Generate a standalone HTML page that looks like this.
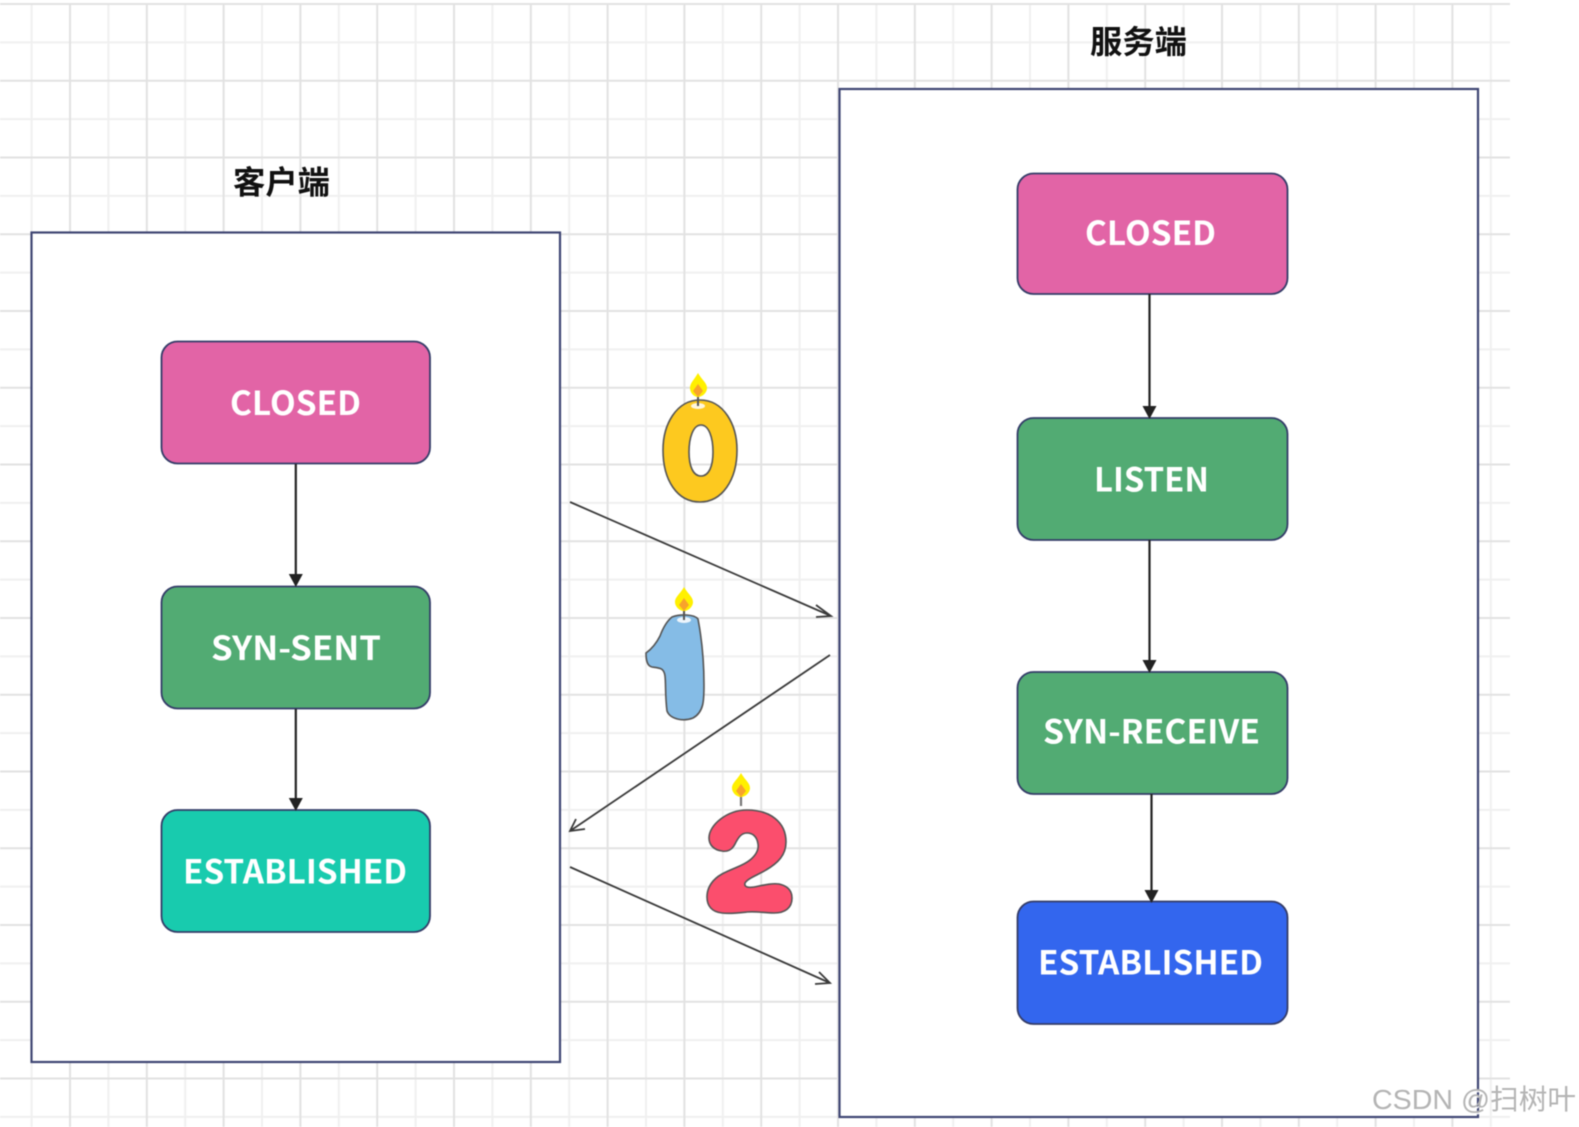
<!DOCTYPE html>
<html>
<head>
<meta charset="utf-8">
<style>
html,body{margin:0;padding:0;background:#fff;width:1579px;height:1127px;overflow:hidden}
svg{display:block;filter:blur(0.6px)}
text{font-family:"Noto Sans CJK SC","Liberation Sans",sans-serif}
.n{fill:#fff;font-size:33px;font-weight:700;text-anchor:start}
.t{fill:#111;font-size:32px;font-weight:700}
.box{fill:#fff;stroke:#3f4673;stroke-width:2.2}
.node{stroke:#343c68;stroke-width:1.8}
.cl{stroke:#222;stroke-width:2.2;fill:none}
.ah{fill:#222}
.ar{stroke:#3a3a3a;stroke-width:1.8;fill:none}
</style>
</head>
<body>
<svg width="1579" height="1127" viewBox="0 0 1579 1127" xmlns="http://www.w3.org/2000/svg">
<defs>
<pattern id="g" patternUnits="userSpaceOnUse" x="69" y="3" width="76.8" height="76.75">
<rect width="76.8" height="76.75" fill="#fff"/>
<path d="M39.4 0V76.75M0 39.4H76.8" stroke="#f0f0f0" stroke-width="2"/>
<path d="M1 0V76.75M0 1H76.8" stroke="#e2e2e2" stroke-width="2"/>
</pattern>
</defs>
<rect width="1579" height="1127" fill="#fff"/>
<rect x="0" y="3" width="1510" height="1124" fill="url(#g)"/>

<!-- containers -->
<rect class="box" x="31.5" y="232.5" width="528.5" height="829.5"/>
<rect class="box" x="839.5" y="89" width="638.5" height="1028"/>

<!-- titles -->
<text class="t" x="233" y="193.5" textLength="97" lengthAdjust="spacingAndGlyphs">客户端</text>
<text class="t" x="1090" y="53" textLength="97" lengthAdjust="spacingAndGlyphs">服务端</text>

<!-- client nodes -->
<rect class="node" x="161.5" y="341.5" width="268.5" height="122" rx="16" fill="#e264a6"/>
<rect class="node" x="161.5" y="586.5" width="268.5" height="122" rx="16" fill="#52ab73"/>
<rect class="node" x="161.5" y="810" width="268.5" height="122" rx="16" fill="#18cbae"/>
<text class="n" x="230" y="415" textLength="131" lengthAdjust="spacingAndGlyphs">CLOSED</text>
<text class="n" x="211" y="660" textLength="170" lengthAdjust="spacingAndGlyphs">SYN-SENT</text>
<text class="n" x="183" y="883.5" textLength="224" lengthAdjust="spacingAndGlyphs">ESTABLISHED</text>

<!-- server nodes -->
<rect class="node" x="1017.5" y="173.5" width="270" height="120.5" rx="16" fill="#e264a6"/>
<rect class="node" x="1017.5" y="418" width="270" height="122" rx="16" fill="#52ab73"/>
<rect class="node" x="1017.5" y="672" width="270" height="122" rx="16" fill="#52ab73"/>
<rect class="node" x="1017.5" y="901.5" width="270" height="122.5" rx="16" fill="#3366ee"/>
<text class="n" x="1085" y="245" textLength="131" lengthAdjust="spacingAndGlyphs">CLOSED</text>
<text class="n" x="1094" y="491.5" textLength="115" lengthAdjust="spacingAndGlyphs">LISTEN</text>
<text class="n" x="1043" y="743.5" textLength="217" lengthAdjust="spacingAndGlyphs">SYN-RECEIVE</text>
<text class="n" x="1038" y="974.5" textLength="225" lengthAdjust="spacingAndGlyphs">ESTABLISHED</text>

<!-- vertical connectors -->
<path class="cl" d="M295.8 464V575"/><path class="ah" d="M288.8 574H302.8L295.8 587Z"/>
<path class="cl" d="M295.8 709V798"/><path class="ah" d="M288.8 798H302.8L295.8 811Z"/>
<path class="cl" d="M1149.5 294V406"/><path class="ah" d="M1142.5 406H1156.5L1149.5 419Z"/>
<path class="cl" d="M1149.5 540V660"/><path class="ah" d="M1142.5 660H1156.5L1149.5 673Z"/>
<path class="cl" d="M1151.5 794V890"/><path class="ah" d="M1144.5 890H1158.5L1151.5 903Z"/>

<!-- diagonal arrows -->
<path class="ar" d="M570 502L831 616M816 605L831 616L816 617"/>
<path class="ar" d="M830 655L570 831M576 819L570 831L585 829"/>
<path class="ar" d="M570 867L830 983M819 972L830 983L815 984"/>

<!-- candle 0 -->
<path d="M700 400C724 400 737 425 737 450C737 480 722 502 700 502C677 502 663 480 663 450C663 425 676 400 700 400ZM701 425C693 425 689 438 689 452C689 466 693 476 701 476C709 476 713 466 713 452C713 438 709 425 701 425Z" fill="#fdc91f" fill-rule="evenodd" stroke="#555" stroke-width="1.6"/>
<ellipse cx="698" cy="406" rx="7" ry="3" fill="#fff" opacity=".85"/>
<path d="M698 397V406" stroke="#555" stroke-width="2"/>
<path d="M698 373C702 380 707 383 707 388C707 393 702 397 698 397C694 397 690 393 690 388C690 383 694 380 698 373Z" fill="#fff000"/>
<path d="M698 384L703 391L698 397L693 391Z" fill="#f8a32b"/>

<!-- candle 1 -->
<path d="M672 617C680 614 694 614 698 619C702 640 704 665 704 685C704 700 704 712 693 718C683 722 670 719 667 711C665 695 666 685 665 676C664 668 660 668 652 667C647 666 646 660 646 653C653 648 657 642 660 636C663 628 667 621 672 617Z" fill="#85bce6" stroke="#555" stroke-width="1.6"/>
<ellipse cx="684" cy="620" rx="7" ry="3" fill="#fff" opacity=".85"/>
<path d="M684 611V620" stroke="#555" stroke-width="2"/>
<path d="M684 587C688 594 693 597 693 602C693 607 688 611 684 611C680 611 675 607 675 602C675 597 680 594 684 587Z" fill="#fff000"/>
<path d="M684 598L689 605L684 611L679 605Z" fill="#f8a32b"/>

<!-- candle 2 -->
<path d="M747 810C770 810 786 822 786 842C786 855 778 863 766 870C758 875 748 878 745 883C744 887 748 888 754 887C764 885 772 883 779 884C788 886 792 891 792 898C792 908 785 913 774 913C764 913 756 911 747 912C738 913 730 914 722 913C712 912 707 906 707 897C707 887 713 879 722 874C733 868 743 866 750 860C756 855 759 850 758 844C757 836 752 833 747 833C741 833 738 838 735 844C732 850 727 852 722 851C714 850 709 845 709 838C709 825 727 810 747 810Z" fill="#fb4e6d" stroke="#555" stroke-width="1.6"/>
<path d="M741 796V806" stroke="#777" stroke-width="2.2"/>
<path d="M741 773C745 780 750 783 750 788C750 793 745 797 741 797C737 797 732 793 732 788C732 783 737 780 741 773Z" fill="#fff000"/>
<path d="M741 784L746 791L741 797L736 791Z" fill="#f8a32b"/>

<!-- watermark -->
<text x="1372" y="1109" font-size="28" fill="#fff" opacity=".9" transform="translate(1.5 1.5)" style="font-family:'Liberation Sans','Noto Sans CJK SC',sans-serif" textLength="204" lengthAdjust="spacingAndGlyphs">CSDN @扫树叶</text>
<text x="1372" y="1109" font-size="28" fill="#b4b4b4" style="font-family:'Liberation Sans','Noto Sans CJK SC',sans-serif" textLength="204" lengthAdjust="spacingAndGlyphs">CSDN @扫树叶</text>
</svg>
</body>
</html>
